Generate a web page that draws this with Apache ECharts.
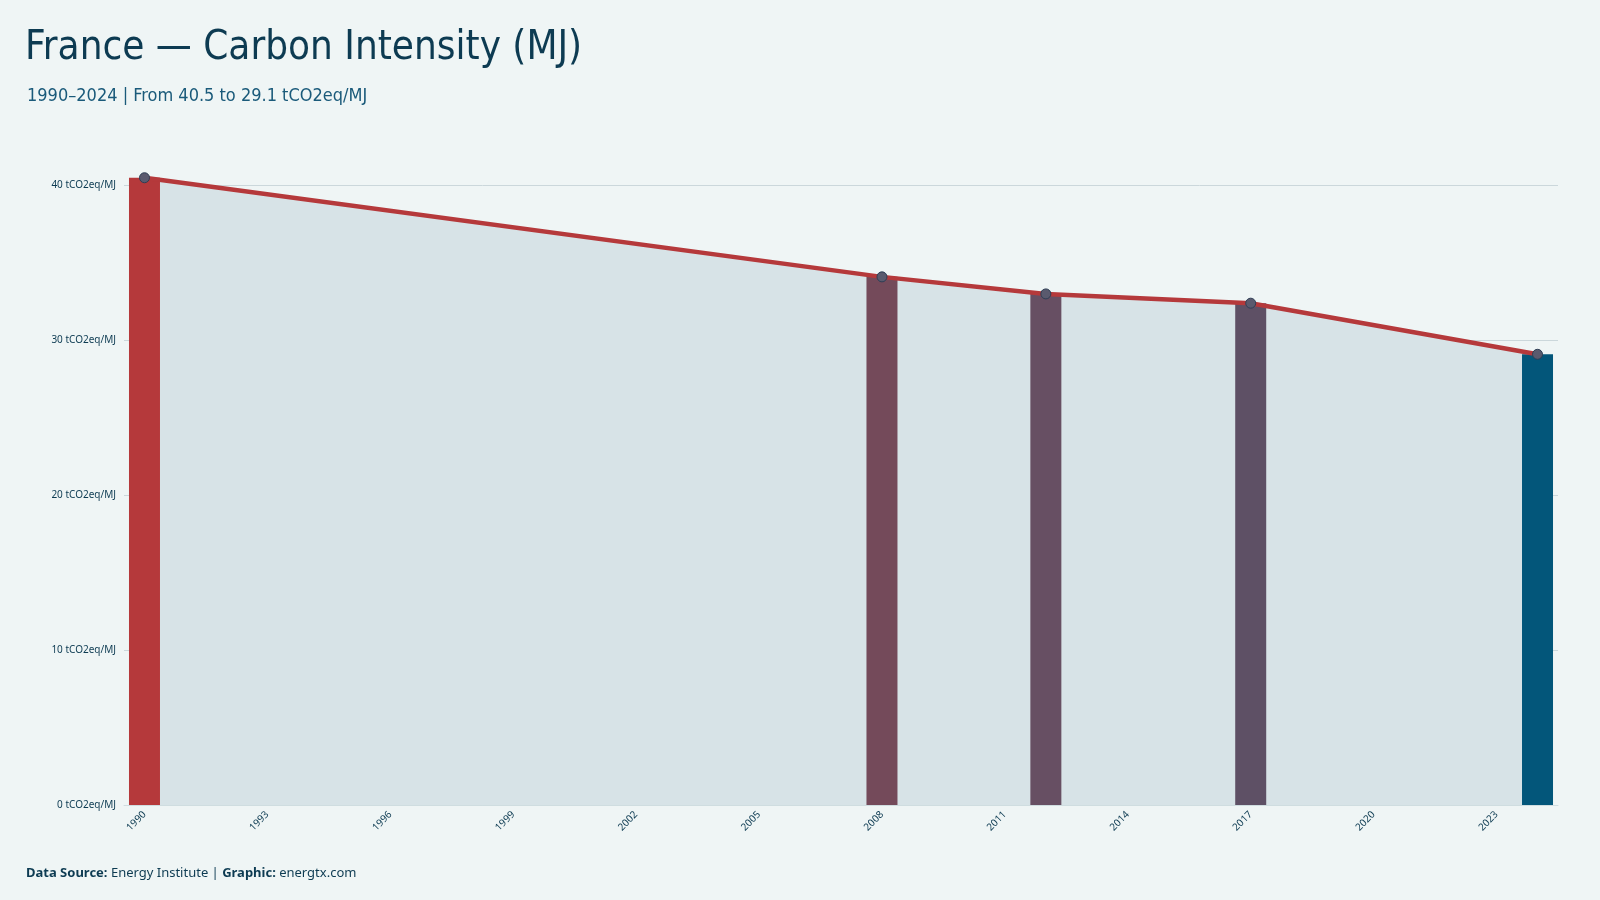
<!DOCTYPE html>
<html><head><meta charset="utf-8">
<script src="https://cdn.jsdelivr.net/npm/echarts@6/dist/echarts.min.js"></script>
<style>html,body{margin:0;background:#eff5f5}#c{width:1600px;height:900px}</style>
</head><body><div id="c"></div>
<script>
const years = [];
for (let y = 1990; y <= 2024; y++) years.push(String(y));
const pointYears = ['1990','2008','2012','2017','2024'];
const pointValues = [40.5, 34.1, 33.0, 32.4, 29.1];
const barColors = ['#b5393b','#744a5a','#674f63','#5e5065','#03567a'];
const title = 'France — Carbon Intensity (MJ)';
const subtitle = '1990–2024 | From 40.5 to 29.1 tCO2eq/MJ';

const lineData = years.map(y => { const i = pointYears.indexOf(y); return i < 0 ? null : pointValues[i]; });
const barData = years.map(y => { const i = pointYears.indexOf(y); return i < 0 ? null : {value: pointValues[i], itemStyle: {color: barColors[i]}}; });
const font = "'Liberation Sans Narrow','DejaVu Sans Condensed',sans-serif";
const chart = echarts.init(document.getElementById('c'));
chart.setOption({
  backgroundColor: '#eff5f5',
  animation: false,
  title: [
    {text: title, left: 20, top: 24, textStyle: {fontFamily: font, fontSize: 40, fontWeight: 'normal', color: '#0d3b52'}},
    {text: subtitle, left: 22, top: 82, textStyle: {fontFamily: font, fontSize: 18, fontWeight: 'normal', color: '#1a5a7a'}},
    {text: '{b|Data Source:} Energy Institute | {b|Graphic:} energtx.com', left: 21, top: 862,
     textStyle: {fontFamily: 'Noto Sans', fontSize: 13, fontWeight: 'normal', color: '#0d3b52', rich: {b: {fontWeight: 'bold', fontFamily: 'Noto Sans', fontSize: 13, color: '#0d3b52'}}}}
  ],
  grid: {left: 124, right: 42, top: 170, bottom: 95},
  xAxis: {type: 'category', data: years, boundaryGap: true,
    axisLine: {lineStyle: {color: '#cfdde0'}}, axisTick: {show: false},
    axisLabel: {interval: 2, rotate: 45, fontSize: 10, color: '#0d3b52', fontFamily: 'Noto Sans', margin: 8}},
  yAxis: {type: 'value', min: 0, max: 41, interval: 10,
    axisLabel: {formatter: v => v + ' tCO2eq/MJ', fontSize: 10, color: '#0d3b52', fontFamily: 'Noto Sans', showMaxLabel: false},
    splitLine: {lineStyle: {color: '#cbd7db'}, showMaxLine: false}},
  series: [
    {type: 'line', data: lineData, connectNulls: true, z: 1, symbol: 'none', silent: true,
     lineStyle: {width: 0}, areaStyle: {color: '#d7e3e7', opacity: 1}},
    {type: 'bar', data: barData, barWidth: 31, z: 2, barGap: '-100%'},
    {type: 'line', data: lineData, connectNulls: true, z: 3,
     lineStyle: {color: '#b5393b', width: 4.5},
     symbol: 'circle', symbolSize: 10,
     itemStyle: {color: '#5a5a6e', borderColor: '#2e3e55', borderWidth: 1}}
  ]
});
</script></body></html>
